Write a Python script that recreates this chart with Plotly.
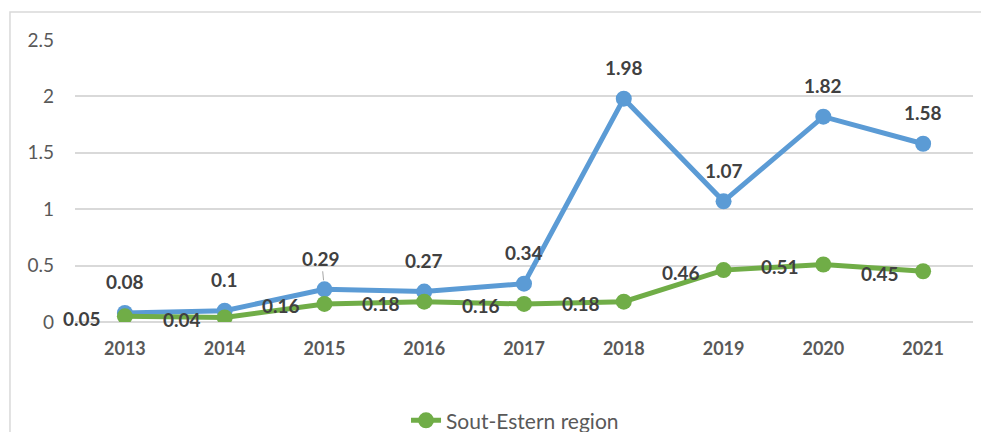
import plotly.graph_objects as go

years = ['2013', '2014', '2015', '2016', '2017', '2018', '2019', '2020', '2021']
blue_vals = [0.08, 0.1, 0.29, 0.27, 0.34, 1.98, 1.07, 1.82, 1.58]
green_vals = [0.05, 0.04, 0.16, 0.18, 0.16, 0.18, 0.46, 0.51, 0.45]
y_ticks = [0, 0.5, 1, 1.5, 2, 2.5]
y_tick_text = ['0', '0.5', '1', '1.5', '2', '2.5']

blue = '#5B9BD5'
green = '#70AD47'
label_color = '#404040'
tick_color = '#595959'
grid_color = '#D9D9D9'
font_name = 'Lato'

fig = go.Figure()

fig.add_trace(go.Scatter(
    x=years, y=blue_vals, mode='lines+markers',
    line=dict(color=blue, width=5),
    marker=dict(color=blue, size=16),
    showlegend=False, name=''))

fig.add_trace(go.Scatter(
    x=years, y=green_vals, mode='lines+markers',
    line=dict(color=green, width=5),
    marker=dict(color=green, size=16),
    name='Sout-Estern region'))

# data labels (category axis -> use index position)
annotations = []
for i, v in enumerate(blue_vals):
    if years[i] == '2015':
        # displaced label with leader line
        annotations.append(dict(
            x=i, y=v, text='<b>%g</b>' % v, showarrow=True, arrowhead=0,
            arrowwidth=1, arrowcolor='#A6A6A6', ax=-3, ay=-31, standoff=9,
            font=dict(size=19, color=label_color, family=font_name)))
    else:
        annotations.append(dict(
            x=i, y=v, text='<b>%g</b>' % v, showarrow=False, yshift=31,
            font=dict(size=19, color=label_color, family=font_name)))

for i, v in enumerate(green_vals):
    annotations.append(dict(
        x=i, y=v, text='<b>%g</b>' % v, showarrow=False, xanchor='right',
        xshift=-22, yshift=-2,
        font=dict(size=19, color=label_color, family=font_name)))

fig.update_layout(
    width=989, height=432,
    margin=dict(l=67, r=24, t=32, b=118, autoexpand=False),
    paper_bgcolor='white', plot_bgcolor='white',
    font=dict(family=font_name, color=tick_color, size=17),
    annotations=annotations,
    showlegend=True,
    legend=dict(orientation='h', x=0.49, xanchor='center', y=-0.35,
                yanchor='middle', font=dict(size=21, color=tick_color)),
    shapes=[dict(type='rect', xref='paper', yref='paper',
                 x0=-0.0724, x1=1.1, y0=-0.45, y1=1.099,
                 line=dict(color=grid_color, width=1.5), layer='below')],
)

fig.update_xaxes(
    type='category', range=[-0.5, 8.5], showgrid=False,
    showline=False, zeroline=False, ticklabelstandoff=14, automargin=False,
    tickfont=dict(size=18, color=tick_color, family=font_name),
    ticktext=['<b>%s</b>' % y for y in years], tickvals=years)

fig.update_yaxes(
    range=[0, 2.5], tickvals=y_ticks, ticktext=y_tick_text,
    showgrid=True, gridcolor=grid_color, gridwidth=1.5,
    zeroline=True, zerolinecolor=grid_color, zerolinewidth=1.5,
    ticklabelstandoff=20, automargin=False,
    tickfont=dict(size=19, color=tick_color, family=font_name))

fig.write_html('out.html')
